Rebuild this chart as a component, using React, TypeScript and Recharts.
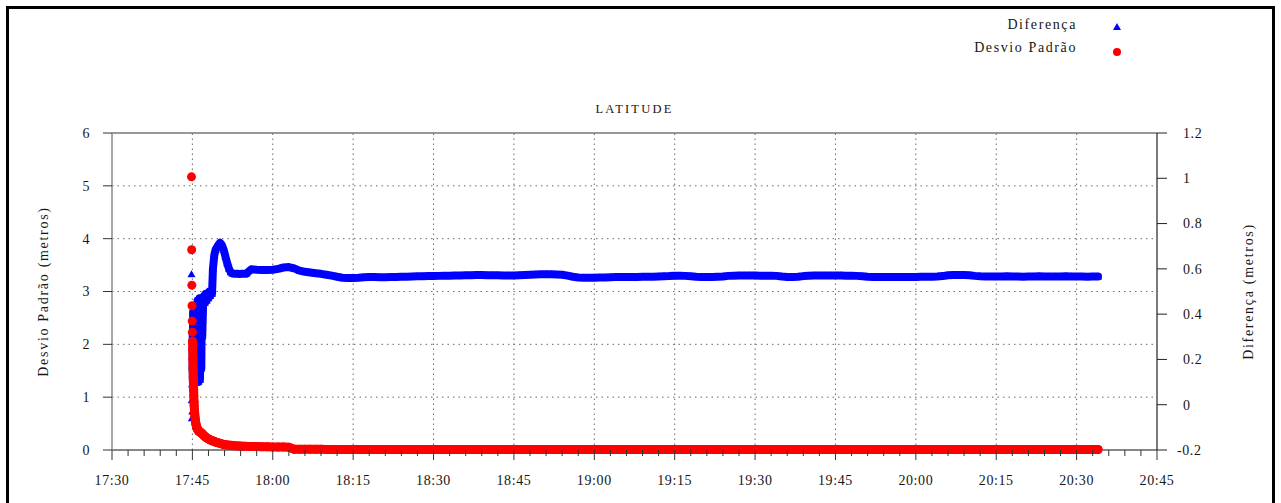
import React from 'react';
import { ScatterChart, Scatter, XAxis, YAxis, ReferenceLine, Legend, Label } from 'recharts';

// first ten minutes of the session, logged irregularly (seconds after 17:44:50)
const sessionStart = '17:44:50';
const earlySeconds = [
  0, 2, 4, 6, 8, 10, 12, 14, 16, 18,
  20, 22, 24, 26, 28, 30, 33, 36, 39, 42,
  45, 48, 51, 54, 57, 60, 64, 68, 72, 76,
  80, 85, 90, 95, 100, 105, 110, 115, 120, 130,
  140, 150, 160, 170, 180, 190, 200, 210, 220, 230,
  240, 255, 270, 285, 300, 320, 340, 360, 380, 400,
  420, 440, 460, 480, 510, 540, 570,
];

const earlyDiff = [
  0.576, 0.02, -0.06, 0.09, -0.03, 0.13, 0.15, 0.32, 0.1, 0.41,
  0.2, 0.36, 0.12, 0.28, 0.4, 0.18, 0.34, 0.11, 0.25, 0.42,
  0.15, 0.38, 0.22, 0.1, 0.44, 0.3, 0.13, 0.46, 0.26, 0.1,
  0.4, 0.2, 0.47, 0.11, 0.35, 0.45, 0.16, 0.43, 0.3, 0.44,
  0.48, 0.45, 0.49, 0.46, 0.49, 0.47, 0.5, 0.48, 0.5, 0.49,
  0.6, 0.66, 0.685, 0.695, 0.705, 0.715, 0.705, 0.685, 0.655, 0.625,
  0.6, 0.585, 0.579, 0.578, 0.578, 0.577, 0.578,
];

const earlySd = [
  5.17, 3.79, 3.12, 2.73, 2.44, 2.23, 2.06, 1.9, 1.72, 1.55,
  1.4, 1.26, 1.13, 1.02, 0.92, 0.84, 0.76, 0.69, 0.63, 0.58,
  0.54, 0.51, 0.48, 0.46, 0.44, 0.42, 0.41, 0.39, 0.38, 0.37,
  0.36, 0.35, 0.35, 0.34, 0.33, 0.33, 0.32, 0.31, 0.31, 0.29,
  0.27, 0.26, 0.24, 0.23, 0.22, 0.21, 0.2, 0.19, 0.185, 0.18,
  0.17, 0.16, 0.15, 0.14, 0.135, 0.125, 0.115, 0.105, 0.1, 0.096,
  0.092, 0.088, 0.085, 0.082, 0.078, 0.075, 0.072,
];

// the first few fixes are scattered, the rest form a dense track
const burstCount = 6;

// then one record per minute, 17:55 .. 20:34
const minuteStart = '17:55';

const minuteDiff = [
  0.578, 0.598, 0.596, 0.595, 0.595, 0.596, 0.600, 0.606, 0.608, 0.602,
  0.592, 0.587, 0.584, 0.581, 0.578, 0.574, 0.570, 0.565, 0.561, 0.560,
  0.560, 0.561, 0.563, 0.564, 0.564, 0.563, 0.563, 0.564, 0.564, 0.565,
  0.565, 0.566, 0.567, 0.567, 0.568, 0.568, 0.569, 0.570, 0.570, 0.571,
  0.571, 0.572, 0.572, 0.573, 0.573, 0.572, 0.572, 0.572, 0.571, 0.571,
  0.571, 0.572, 0.573, 0.574, 0.575, 0.576, 0.576, 0.576, 0.575, 0.574,
  0.570, 0.565, 0.562, 0.561, 0.561, 0.561, 0.562, 0.562, 0.563, 0.564,
  0.564, 0.564, 0.564, 0.564, 0.565, 0.565, 0.565, 0.566, 0.567, 0.568,
  0.570, 0.570, 0.569, 0.567, 0.565, 0.564, 0.564, 0.564, 0.565, 0.566,
  0.569, 0.570, 0.571, 0.571, 0.571, 0.571, 0.570, 0.570, 0.570, 0.569,
  0.566, 0.564, 0.564, 0.565, 0.568, 0.570, 0.571, 0.571, 0.571, 0.571,
  0.571, 0.571, 0.570, 0.570, 0.569, 0.567, 0.565, 0.564, 0.564, 0.564,
  0.564, 0.564, 0.564, 0.564, 0.564, 0.564, 0.565, 0.565, 0.565, 0.566,
  0.568, 0.572, 0.573, 0.573, 0.573, 0.572, 0.569, 0.567, 0.566, 0.566,
  0.566, 0.566, 0.567, 0.566, 0.566, 0.565, 0.566, 0.566, 0.567, 0.566,
  0.566, 0.566, 0.566, 0.567, 0.566, 0.566, 0.566, 0.565, 0.566, 0.566,
];

const minuteSd = [
  0.069, 0.067, 0.065, 0.063, 0.061, 0.059, 0.057, 0.055, 0.053, 0.014,
  0.013, 0.013, 0.012, 0.012, 0.012, 0.011, 0.011, 0.011, 0.011, 0.011,
  0.011, 0.011, 0.010, 0.010, 0.011, 0.010, 0.010, 0.010, 0.010, 0.010,
  0.010, 0.010, 0.010, 0.011, 0.010, 0.010, 0.010, 0.010, 0.010, 0.010,
  0.010, 0.010, 0.010, 0.010, 0.010, 0.011, 0.010, 0.010, 0.010, 0.010,
  0.010, 0.010, 0.010, 0.010, 0.010, 0.010, 0.010, 0.010, 0.011, 0.010,
  0.010, 0.010, 0.010, 0.010, 0.010, 0.010, 0.010, 0.010, 0.010, 0.010,
  0.010, 0.011, 0.010, 0.010, 0.010, 0.010, 0.010, 0.010, 0.010, 0.010,
  0.010, 0.010, 0.010, 0.010, 0.010, 0.010, 0.010, 0.011, 0.010, 0.010,
  0.010, 0.010, 0.010, 0.010, 0.010, 0.010, 0.010, 0.010, 0.010, 0.010,
  0.010, 0.010, 0.010, 0.010, 0.011, 0.010, 0.010, 0.010, 0.010, 0.010,
  0.010, 0.010, 0.010, 0.010, 0.010, 0.010, 0.010, 0.010, 0.010, 0.010,
  0.010, 0.010, 0.010, 0.011, 0.010, 0.010, 0.010, 0.010, 0.010, 0.010,
  0.010, 0.010, 0.010, 0.010, 0.010, 0.010, 0.010, 0.010, 0.010, 0.010,
  0.010, 0.010, 0.010, 0.010, 0.010, 0.010, 0.011, 0.010, 0.010, 0.010,
  0.010, 0.010, 0.010, 0.010, 0.010, 0.010, 0.010, 0.010, 0.010, 0.010,
];

const timeTickLabels = [
  '17:30', '17:45', '18:00', '18:15', '18:30', '18:45', '19:00',
  '19:15', '19:30', '19:45', '20:00', '20:15', '20:30', '20:45',
];
const sdTicks = [0, 1, 2, 3, 4, 5, 6];
const diffTicks = [-0.2, 0, 0.2, 0.4, 0.6, 0.8, 1, 1.2];

const series = [
  { name: 'Diferença', color: '#0000ff', shape: 'triangle' },
  { name: 'Desvio Padrão', color: '#ff0000', shape: 'circle' },
];

const FONT = '"Liberation Serif", "Times New Roman", serif';
const INK = '#161616';
const GRID = '#6a6a6a';

const toMinutes = (clock: string) => {
  const [h, m, s = 0] = clock.split(':').map(Number);
  return h * 60 + m + s / 60;
};
const toClock = (min: number) => `${Math.floor(min / 60)}:${String(min % 60).padStart(2, '0')}`;

const majorTimes = timeTickLabels.map(toMinutes);
// minor ticks every 3 minutes between the labelled ones
const allTimeTicks: number[] = [];
majorTimes.forEach((t, i) => {
  allTimeTicks.push(t);
  if (i < majorTimes.length - 1) {
    for (let k = 1; k < 5; k++) allTimeTicks.push(t + k * 3);
  }
});

const t0 = toMinutes(sessionStart);
const tMinute = toMinutes(minuteStart);

const diffPoints = [
  ...earlySeconds.map((s, i) => ({ t: t0 + s / 60, diff: earlyDiff[i] })),
  ...minuteDiff.map((v, i) => ({ t: tMinute + i, diff: v })),
];
const sdPoints = [
  ...earlySeconds.map((s, i) => ({ t: t0 + s / 60, sd: earlySd[i] })),
  ...minuteSd.map((v, i) => ({ t: tMinute + i, sd: v })),
];

const TriangleMark = ({ cx, cy }: any) => (
  <path d={`M${cx},${cy - 4}L${cx + 4},${cy + 3}L${cx - 4},${cy + 3}Z`} fill={series[0].color} />
);
const CircleMark = ({ cx, cy }: any) => <circle cx={cx} cy={cy} r={4.5} fill={series[1].color} />;

const BottomTick = ({ x, y, payload }: any) => {
  const major = majorTimes.includes(payload.value);
  return (
    <g>
      <line x1={x} x2={x} y1={y} y2={y + (major ? 10 : 6)} stroke="#333" />
      {major && (
        <text x={x} y={y + 35} textAnchor="middle" fontFamily={FONT} fontSize={14} letterSpacing={0.6} fill={INK}>
          {toClock(payload.value)}
        </text>
      )}
    </g>
  );
};

const TopTick = ({ x, y, payload }: any) => {
  const major = majorTimes.includes(payload.value);
  return <line x1={x} x2={x} y1={y} y2={y - (major ? 10 : 6)} stroke="#333" />;
};

const LeftTick = ({ x, y, payload }: any) => (
  <text x={x} y={y} dy="0.35em" textAnchor="end" fontFamily={FONT} fontSize={14} letterSpacing={0.6} fill={INK}>
    {payload.value}
  </text>
);

const RightTick = ({ x, y, payload }: any) => (
  <text x={x} y={y} dx={payload.value < 0 ? -6 : 0} dy="0.35em" textAnchor="start" fontFamily={FONT} fontSize={14} letterSpacing={0.6} fill={INK}>
    {payload.value}
  </text>
);

const titleStyle = { fontFamily: FONT, fontSize: 14, letterSpacing: 1.7, fill: INK };

const LeftTitle = ({ viewBox }: any) => {
  const x = viewBox.x + 5.5;
  const y = viewBox.y + viewBox.height / 2;
  return (
    <text x={x} y={y} transform={`rotate(-90 ${x} ${y})`} textAnchor="middle" {...titleStyle}>
      Desvio Padrão (metros)
    </text>
  );
};

const RightTitle = ({ viewBox }: any) => {
  const x = viewBox.x + 96;
  const y = viewBox.y + viewBox.height / 2;
  return (
    <text x={x} y={y} transform={`rotate(-90 ${x} ${y})`} textAnchor="middle" {...titleStyle}>
      Diferença (metros)
    </text>
  );
};

const PlotTitle = ({ viewBox }: any) => (
  <text x={viewBox.x + viewBox.width / 2} y={viewBox.y + 10} textAnchor="middle" fontFamily={FONT} fontSize={12.5} letterSpacing={2.2} fill={INK}>
    LATITUDE
  </text>
);

const LegendBox = () => (
  <div style={{ position: 'relative', height: 0, fontFamily: FONT, fontSize: 14, letterSpacing: 1.6, color: INK }}>
    {series.map((s, i) => (
      <React.Fragment key={s.name}>
        <div style={{ position: 'absolute', top: 17 + i * 23, right: 1281 - 1077, lineHeight: '16px', whiteSpace: 'nowrap' }}>
          {s.name}
        </div>
        <svg width={12} height={12} style={{ position: 'absolute', left: 1111, top: 21 + i * 24.5 }}>
          {s.shape === 'triangle' ? (
            <path d="M6,2L10,9L2,9Z" fill={s.color} />
          ) : (
            <circle cx={6} cy={6} r={4} fill={s.color} />
          )}
        </svg>
      </React.Fragment>
    ))}
  </div>
);

const trackLine = (color: string, width: number) => ({
  stroke: color,
  strokeWidth: width,
  strokeLinejoin: 'round' as const,
  strokeLinecap: 'round' as const,
});

export default function App() {
  return (
    <div style={{ position: 'absolute', left: 0, top: 0, width: 1281, height: 503, background: '#fff', overflow: 'hidden' }}>
      <div
        style={{
          position: 'absolute', left: 6, top: 6, width: 1269, height: 540,
          border: '3px solid #000', borderBottom: 'none', boxSizing: 'border-box',
        }}
      />
      <div style={{ position: 'absolute', left: 0, top: 0 }}>
        <ScatterChart width={1281} height={503} margin={{ top: 103, right: 14, bottom: 3, left: 42 }}>
          {majorTimes.slice(1, -1).map((t) => (
            <ReferenceLine key={`gx-${t}`} x={t} xAxisId="bottom" yAxisId="left" stroke={GRID} strokeDasharray="1.5 3.5" />
          ))}
          {sdTicks.slice(1, -1).map((v) => (
            <ReferenceLine key={`gy-${v}`} y={v} xAxisId="bottom" yAxisId="left" stroke={GRID} strokeDasharray="1.5 4" />
          ))}

          <Scatter
            name={series[0].name}
            data={diffPoints.slice(0, burstCount)}
            xAxisId="bottom"
            yAxisId="right"
            fill={series[0].color}
            shape={TriangleMark}
            isAnimationActive={false}
          />
          <Scatter
            name={`${series[0].name} track`}
            data={diffPoints.slice(burstCount)}
            xAxisId="bottom"
            yAxisId="right"
            fill={series[0].color}
            shape={TriangleMark}
            line={trackLine(series[0].color, 8)}
            lineType="joint"
            legendType="none"
            isAnimationActive={false}
          />
          <Scatter
            name={series[1].name}
            data={sdPoints.slice(0, burstCount)}
            xAxisId="bottom"
            yAxisId="left"
            fill={series[1].color}
            shape={CircleMark}
            isAnimationActive={false}
          />
          <Scatter
            name={`${series[1].name} track`}
            data={sdPoints.slice(burstCount)}
            xAxisId="bottom"
            yAxisId="left"
            fill={series[1].color}
            shape={CircleMark}
            line={trackLine(series[1].color, 9)}
            lineType="joint"
            legendType="none"
            isAnimationActive={false}
          />

          <XAxis
            xAxisId="bottom"
            dataKey="t"
            type="number"
            domain={[majorTimes[0], majorTimes[majorTimes.length - 1]]}
            ticks={allTimeTicks}
            interval={0}
            height={50}
            tickSize={0}
            tickMargin={0}
            tickLine={false}
            axisLine={{ stroke: '#111', strokeWidth: 1.2 }}
            tick={<BottomTick />}
          />
          <XAxis
            xAxisId="top"
            orientation="top"
            dataKey="t"
            type="number"
            domain={[majorTimes[0], majorTimes[majorTimes.length - 1]]}
            ticks={allTimeTicks}
            interval={0}
            height={30}
            tickSize={0}
            tickMargin={0}
            tickLine={false}
            axisLine={{ stroke: '#333', strokeWidth: 1.2 }}
            tick={<TopTick />}
          >
            <Label content={<PlotTitle />} />
          </XAxis>
          <YAxis
            yAxisId="left"
            dataKey="sd"
            type="number"
            domain={[0, 6]}
            ticks={sdTicks}
            interval={0}
            width={70}
            tickSize={9}
            tickMargin={13}
            tickLine={{ stroke: '#333' }}
            axisLine={{ stroke: '#8a8a8a', strokeWidth: 1.5 }}
            tick={<LeftTick />}
          >
            <Label content={<LeftTitle />} />
          </YAxis>
          <YAxis
            yAxisId="right"
            orientation="right"
            dataKey="diff"
            type="number"
            domain={[-0.2, 1.2]}
            ticks={diffTicks}
            interval={0}
            width={110}
            tickSize={10}
            tickMargin={16}
            tickLine={{ stroke: '#222' }}
            axisLine={{ stroke: '#222', strokeWidth: 1.2 }}
            tick={<RightTick />}
          >
            <Label content={<RightTitle />} />
          </YAxis>

          <Legend
            verticalAlign="top"
            align="left"
            wrapperStyle={{ top: 0, left: 0, width: 1281, height: 0 }}
            content={<LegendBox />}
          />
        </ScatterChart>
      </div>
    </div>
  );
}
